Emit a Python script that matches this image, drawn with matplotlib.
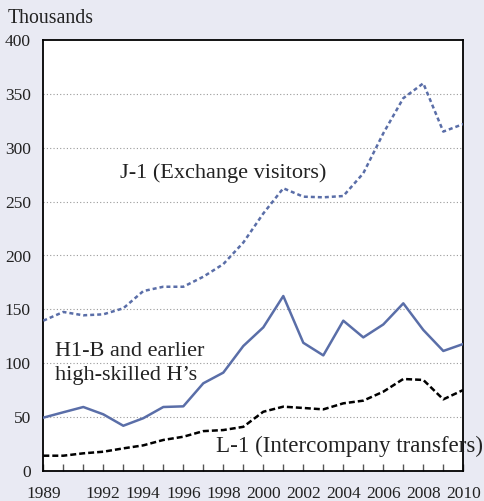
import matplotlib
matplotlib.use("Agg")
import matplotlib.pyplot as plt

years = list(range(1989, 2011))
h1b = [49.5, 54.5, 59.4, 52.6, 42.0, 49.0, 59.4, 60.0, 81.4, 91.3, 116.0, 133.3,
       162.4, 119.0, 107.3, 139.5, 124.0, 136.0, 155.6, 130.9, 111.4, 117.9]
j1 = [139.5, 147.6, 144.5, 145.4, 151.0, 167.0, 171.0, 171.0, 180.3, 192.0, 212.0, 239.0,
      262.4, 254.6, 254.0, 255.2, 276.3, 313.4, 346.0, 359.8, 315.0, 322.0]
l1 = [14.2, 14.2, 16.4, 17.9, 21.0, 23.8, 28.8, 31.8, 37.0, 38.0, 41.0, 55.0,
      59.7, 58.5, 57.2, 62.8, 65.3, 73.6, 85.4, 84.5, 66.5, 75.2]
labelled_years = [1989, 1992, 1994, 1996, 1998, 2000, 2002, 2004, 2006, 2008, 2010]
y_ticks = [0, 50, 100, 150, 200, 250, 300, 350, 400]
grid_levels = [50, 100, 150, 200, 250, 300, 350]

BG = "#e9eaf3"
BLUE = "#5a6ea8"
FONT = "Liberation Serif"

plt.rcParams["font.family"] = [FONT, "DejaVu Serif"]

fig = plt.figure(figsize=(4.84, 5.01), dpi=100, facecolor=BG)
ax = fig.add_axes([43.3 / 484, 30 / 501, 420 / 484, 431 / 501])
ax.set_facecolor("white")

for g in grid_levels:
    ax.axhline(g, color="#9a9a9a", lw=0.8, ls=(0, (1, 2)), zorder=1)

ax.plot(years, j1, color=BLUE, lw=1.8, ls=(0, (1.6, 1.2)), zorder=3)
ax.plot(years, h1b, color=BLUE, lw=1.8, ls="-", zorder=3)
ax.plot(years, l1, color="black", lw=1.8, ls=(0, (2.4, 1.2)), zorder=3)

ax.set_xlim(1989, 2010)
ax.set_ylim(0, 400)
ax.set_yticks(y_ticks)
ax.set_yticklabels([str(v) for v in y_ticks])
ax.set_xticks(years)
ax.set_xticklabels([str(y) if y in labelled_years else "" for y in years])

ax.tick_params(axis="y", length=0, pad=9, labelsize=12.5, colors="#222222")
ax.tick_params(axis="x", direction="in", length=5, width=1, color="#555555",
               pad=11, labelsize=12.5, labelcolor="#222222")

for s in ax.spines.values():
    s.set_color("black")
    s.set_linewidth(1.3)

ax.text(1992.83, 272, "J-1 (Exchange visitors)", fontsize=16, color="#222222",
        ha="left", va="baseline", zorder=4)
ax.text(1989.59, 106.7, "H1-B and earlier", fontsize=16, color="#222222",
        ha="left", va="baseline", zorder=4)
ax.text(1989.59, 84.5, "high-skilled H\u2019s", fontsize=16, color="#222222",
        ha="left", va="baseline", zorder=4)
ax.text(1997.64, 17.6, "L-1 (Intercompany transfers)", fontsize=16.6, color="#222222",
        ha="left", va="baseline", zorder=4, clip_on=False)

fig.text(8 / 484, 1 - 23 / 501, "Thousands", fontsize=14.3, color="#222222",
         ha="left", va="baseline")

fig.savefig("out.png", dpi=100, facecolor=BG)
